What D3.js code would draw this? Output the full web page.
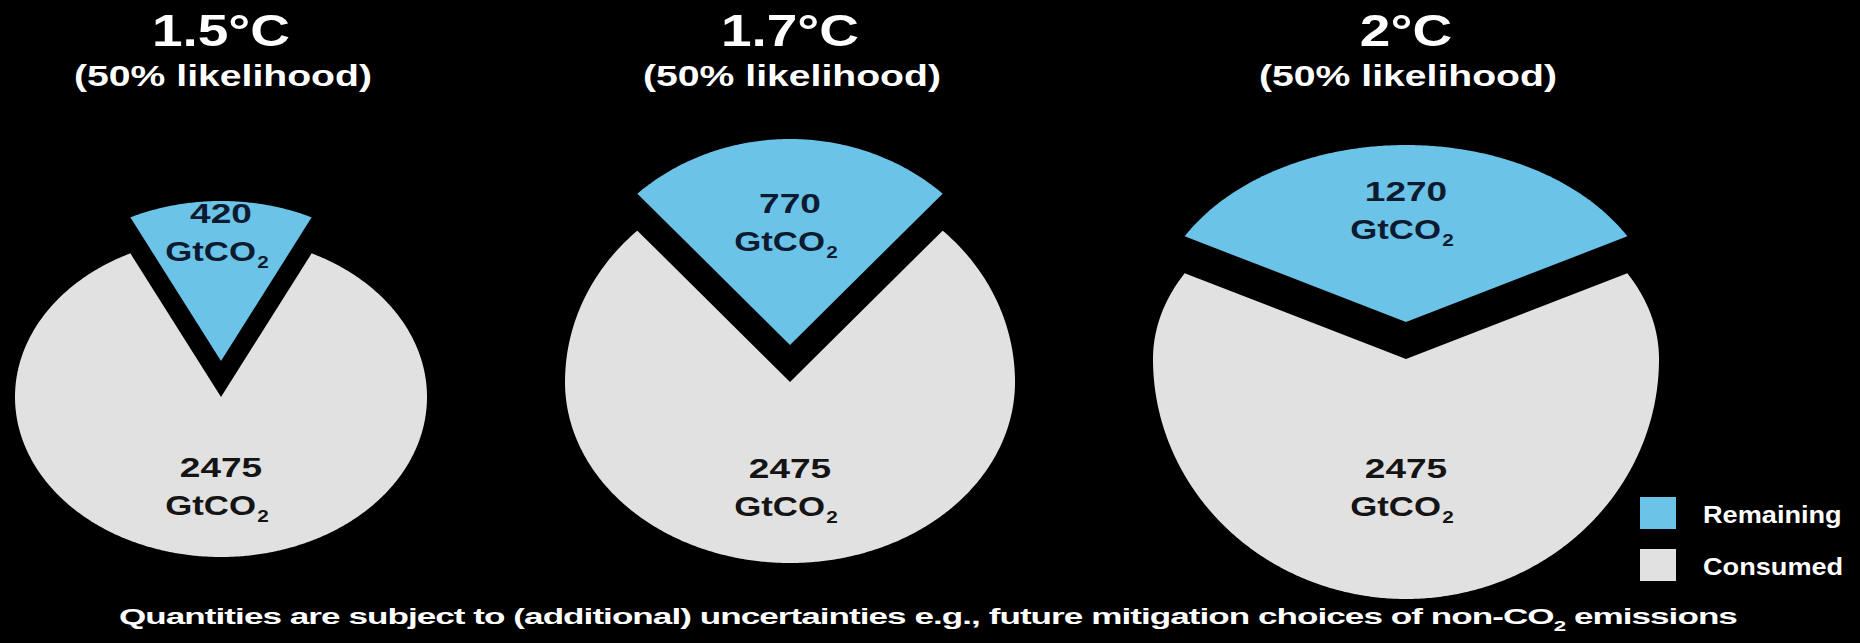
<!DOCTYPE html>
<html>
<head>
<meta charset="utf-8">
<script src="https://cdn.jsdelivr.net/npm/d3@7"></script>
<style>
  html, body { margin: 0; padding: 0; background: #000; }
  svg { display: block; }
  text { font-family: "Liberation Sans", Arial, Helvetica, sans-serif; font-weight: 700; }
</style>
</head>
<body>
<svg id="chart" width="1860" height="643"></svg>
<script>
// ---- data ----
const scenarios = ["1.5°C", "1.7°C", "2°C"];
const likelihoods = ["(50% likelihood)", "(50% likelihood)", "(50% likelihood)"];
const remaining = [420, 770, 1270];     // GtCO2 left in the budget
const consumed = [2475, 2475, 2475];    // GtCO2 already emitted
const unitMain = "GtCO";
const unitSub = "2";
const seriesNames = ["Remaining", "Consumed"];
const footnoteParts = ["Quantities are subject to (additional) uncertainties e.g., future mitigation choices of non-CO", "2", " emissions"];

// ---- layout ----
// Each disc is drawn tilted: the far half (top) and the near half (bottom)
// get their own vertical radius.
const W = 1860, H = 643;
const pieLayout = [
  { cx: 221,  cy: 397, rx: 206, ryTop: 160, ryBot: 160, explode: 36, remLabelR: 0.81, conLabelR: 0.55 },
  { cx: 790,  cy: 382, rx: 225, ryTop: 206, ryBot: 181, explode: 37, remLabelR: 0.60, conLabelR: 0.574 },
  { cx: 1406, cy: 359, rx: 253, ryTop: 177, ryBot: 240, explode: 37, remLabelR: 0.64, conLabelR: 0.53 }
];
const colors = d3.scaleOrdinal().domain(seriesNames).range(["#6cc3e8", "#e1e1e1"]);
const labelInk = { Remaining: "#0c1b30", Consumed: "#141414" };

const svg = d3.select("#chart");
svg.append("rect").attr("width", W).attr("height", H).attr("fill", "#000");

function wideText(g, x, y, sx, size, fill, anchor) {
  return g.append("text")
    .attr("transform", `translate(${x},${y}) scale(${sx},1)`)
    .attr("font-size", size)
    .attr("fill", fill)
    .attr("text-anchor", anchor || "middle");
}

// place a pie angle (0 = 12 o'clock, clockwise) at fraction r of the tilted rim
function rimPoint(L, a, r) {
  const c = Math.cos(a);
  const ry = c > 0 ? L.ryTop : L.ryBot;
  return [L.rx * r * Math.sin(a), -ry * r * c];
}

const line = d3.line();

scenarios.forEach((name, i) => {
  const L = pieLayout[i];
  const rows = [
    { key: "Remaining", value: remaining[i] },
    { key: "Consumed", value: consumed[i] }
  ];
  const total = d3.sum(rows, d => d.value);
  const half = Math.PI * remaining[i] / total;   // half-angle of the remaining wedge

  const pie = d3.pie().sort(null).value(d => d.value)
    .startAngle(-half).endAngle(2 * Math.PI - half);
  const arcs = pie(rows);

  const wedgePath = d => {
    const n = Math.max(8, Math.ceil((d.endAngle - d.startAngle) / (Math.PI / 360)));
    const pts = [[0, 0]].concat(
      d3.range(n + 1).map(k => rimPoint(L, d.startAngle + (d.endAngle - d.startAngle) * k / n, 1))
    );
    return line(pts) + "Z";
  };

  const g = svg.append("g").attr("class", "pie");
  const frame = g.append("g").attr("transform", `translate(${L.cx},${L.cy})`);

  frame.selectAll("path")
    .data(arcs)
    .join("path")
    .attr("transform", d => {
      if (d.data.key !== "Remaining") return null;
      const mid = (d.startAngle + d.endAngle) / 2;
      return `translate(${Math.sin(mid) * L.explode},${-Math.cos(mid) * L.explode})`;
    })
    .attr("d", wedgePath)
    .attr("fill", d => colors(d.data.key));

  // value labels
  arcs.forEach(d => {
    const isRem = d.data.key === "Remaining";
    const mid = (d.startAngle + d.endAngle) / 2;
    const p = rimPoint(L, mid, isRem ? L.remLabelR : L.conLabelR);
    const x = L.cx + p[0] + (isRem ? Math.sin(mid) * L.explode : 0);
    const y = L.cy + p[1] - (isRem ? Math.cos(mid) * L.explode : 0);
    const ink = labelInk[d.data.key];
    wideText(g, x, y - 8, 1.3, 28.5, ink).text(d.data.value);
    const t = wideText(g, x - 4, y + 30, 1.22, 28.5, ink);
    t.append("tspan").text(unitMain);
    t.append("tspan").attr("font-size", 17).attr("dy", 7).attr("dx", 1).text(unitSub);
  });

  // scenario heading
  wideText(g, L.cx, 46, 1.25, 44, "#fff").text(name);
  wideText(g, L.cx + 2, 86, 1.35, 29, "#fff").text(likelihoods[i]);
});

// ---- legend ----
const legend = svg.append("g").attr("class", "legend");
const legendY = d3.scalePoint().domain(seriesNames).range([497, 549]);
legend.selectAll("rect")
  .data(seriesNames)
  .join("rect")
  .attr("x", 1640)
  .attr("y", d => legendY(d))
  .attr("width", 36)
  .attr("height", 32)
  .attr("fill", d => colors(d));
seriesNames.forEach(s => {
  wideText(legend, 1703, legendY(s) + 26, 1.18, 23, "#fff", "start").text(s);
});

// ---- footnote ----
const foot = svg.append("text")
  .attr("font-size", 22)
  .attr("letter-spacing", -0.6)
  .attr("fill", "#fff")
  .attr("text-anchor", "start");
foot.append("tspan").text(footnoteParts[0]);
foot.append("tspan").attr("font-size", 14).attr("dy", 7).text(footnoteParts[1]);
foot.append("tspan").attr("dy", -7).text(footnoteParts[2]);
const natural = foot.node().getComputedTextLength();
const footLeft = 119, footRight = 1738;
foot.attr("transform", `translate(${footLeft},624) scale(${(footRight - footLeft) / natural},1)`);
</script>
</body>
</html>
